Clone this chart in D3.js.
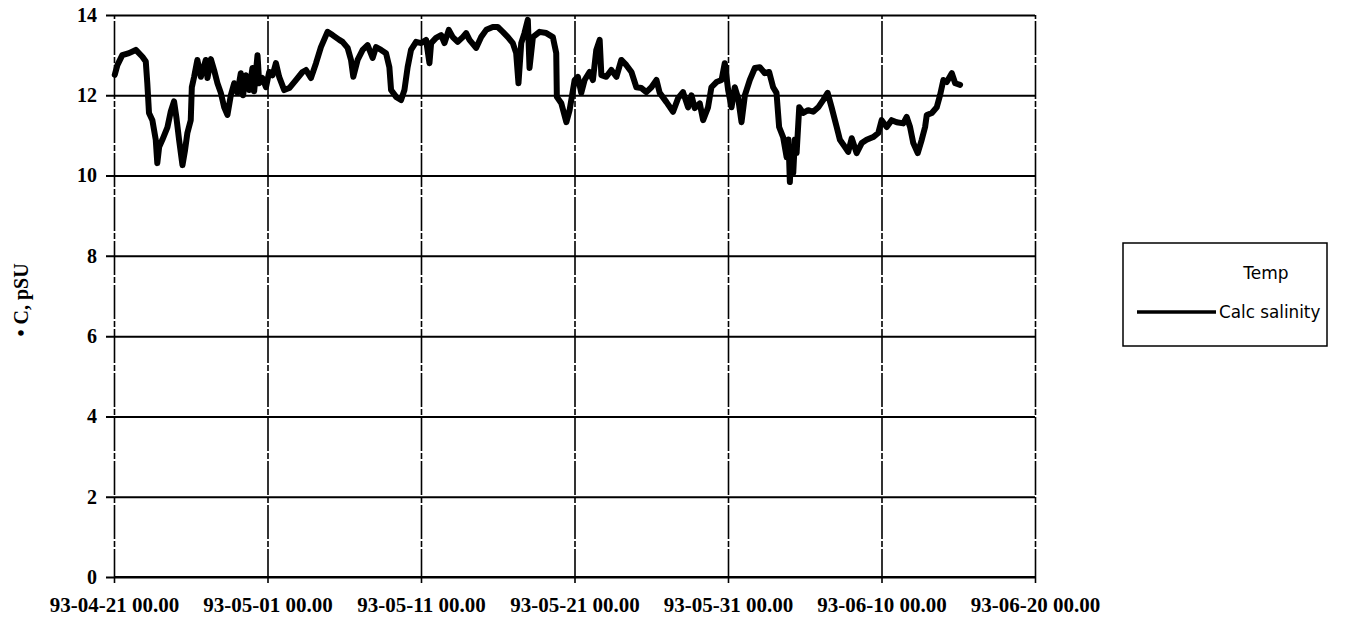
<!DOCTYPE html>
<html>
<head>
<meta charset="utf-8">
<script src="https://cdn.jsdelivr.net/npm/d3@7"></script>
<style>
  html, body { margin: 0; padding: 0; background: #fff; }
  svg { display: block; }
</style>
</head>
<body>
<svg id="chart" width="1361" height="626"></svg>
<script>
// Time of each reading, in days after 93-04-21 00.00
const days = [
  0.05, 0.22, 0.54, 0.98, 1.42, 1.85, 2.07, 2.17, 2.28, 2.50, 2.72, 2.82, 2.94, 3.15, 3.48, 3.70, 3.91, 4.06, 4.24, 4.46,
  4.63, 4.78, 5.00, 5.07, 5.22, 5.43, 5.66, 5.98, 6.09, 6.31, 6.52, 6.74, 6.96, 7.18, 7.39, 7.61, 7.83, 8.04, 8.26, 8.41,
  8.59, 8.81, 9.02, 9.13, 9.35, 9.46, 9.67, 9.90, 10.11, 10.33, 10.55, 10.76, 11.09, 11.42, 11.85, 12.28, 12.51, 12.83, 13.16, 13.48,
  13.91, 14.24, 14.68, 14.89, 15.22, 15.44, 15.59, 15.87, 16.20, 16.52, 16.85, 17.07, 17.40, 17.72, 17.94, 18.05, 18.38, 18.70, 18.92, 19.13,
  19.35, 19.68, 20.01, 20.33, 20.55, 20.66, 20.98, 21.31, 21.53, 21.81, 22.07, 22.39, 22.72, 22.94, 23.16, 23.59, 23.92, 24.25, 24.68, 25.00,
  25.33, 25.66, 25.98, 26.20, 26.35, 26.53, 26.74, 26.96, 27.07, 27.29, 27.72, 28.16, 28.59, 28.81, 28.85, 29.14, 29.47, 29.68, 30.01, 30.22,
  30.44, 30.66, 30.98, 31.20, 31.42, 31.64, 31.75, 32.07, 32.40, 32.73, 33.05, 33.38, 33.71, 34.03, 34.36, 34.68, 35.01, 35.34, 35.55, 35.99,
  36.42, 36.75, 37.07, 37.40, 37.62, 37.83, 38.16, 38.38, 38.70, 38.92, 39.25, 39.58, 39.79, 40.01, 40.23, 40.44, 40.66, 40.88, 41.10, 41.42,
  41.75, 42.07, 42.40, 42.68, 42.94, 43.16, 43.33, 43.59, 43.82, 43.94, 44.03, 44.13, 44.25, 44.36, 44.47, 44.64, 44.90, 45.22, 45.55, 45.88,
  46.20, 46.49, 46.75, 47.08, 47.29, 47.62, 47.83, 48.06, 48.38, 48.71, 49.03, 49.46, 49.79, 50.01, 50.34, 50.66, 50.99, 51.42, 51.64, 51.86,
  52.07, 52.36, 52.62, 52.84, 52.95, 53.28, 53.60, 53.82, 54.03, 54.25, 54.58, 54.80, 55.12
];

// Calculated salinity at each reading
const calcSalinity = [
  12.51, 12.75, 13.00, 13.05, 13.13, 12.96, 12.84, 12.30, 11.56, 11.38, 10.89, 10.31, 10.71, 10.89, 11.20, 11.60, 11.85, 11.46, 10.89, 10.26,
  10.64, 11.06, 11.38, 12.20, 12.46, 12.88, 12.46, 12.88, 12.43, 12.90, 12.63, 12.30, 12.06, 11.70, 11.51, 12.00, 12.30, 12.06, 12.55, 12.00,
  12.50, 12.13, 12.68, 12.10, 13.00, 12.30, 12.43, 12.20, 12.58, 12.50, 12.80, 12.46, 12.13, 12.18, 12.38, 12.58, 12.63, 12.43, 12.80, 13.20,
  13.58, 13.50, 13.38, 13.33, 13.18, 12.88, 12.46, 12.88, 13.13, 13.25, 12.93, 13.20, 13.13, 13.05, 12.70, 12.13, 11.96, 11.88, 12.13, 12.70,
  13.13, 13.33, 13.30, 13.38, 12.80, 13.30, 13.43, 13.50, 13.30, 13.63, 13.45, 13.33, 13.45, 13.55, 13.38, 13.18, 13.45, 13.63, 13.70, 13.70,
  13.58, 13.45, 13.30, 13.05, 12.30, 13.30, 13.55, 13.88, 12.68, 13.45, 13.58, 13.55, 13.45, 13.05, 11.96, 11.80, 11.33, 11.63, 12.38, 12.46,
  12.06, 12.38, 12.58, 12.38, 13.13, 13.38, 12.50, 12.46, 12.63, 12.46, 12.88, 12.75, 12.58, 12.20, 12.18, 12.08, 12.20, 12.38, 12.06, 11.83,
  11.59, 11.93, 12.08, 11.70, 12.00, 11.68, 11.80, 11.38, 11.70, 12.20, 12.33, 12.38, 12.80, 12.13, 11.70, 12.20, 11.93, 11.33, 12.00, 12.38,
  12.68, 12.70, 12.55, 12.58, 12.20, 12.06, 11.21, 10.96, 10.46, 10.90, 9.84, 10.70, 10.06, 10.90, 10.56, 11.70, 11.56, 11.63, 11.59, 11.70,
  11.88, 12.06, 11.70, 11.21, 10.89, 10.71, 10.59, 10.93, 10.56, 10.81, 10.89, 10.96, 11.06, 11.38, 11.21, 11.38, 11.33, 11.30, 11.46, 11.21,
  10.81, 10.56, 10.89, 11.21, 11.51, 11.56, 11.70, 12.01, 12.38, 12.33, 12.55, 12.30, 12.26
];

// Axis ticks
const yTicks = [0, 2, 4, 6, 8, 10, 12, 14];
const xTickDays = [0, 10, 20, 30, 40, 50, 60];
const xTickLabels = ["93-04-21 00.00", "93-05-01 00.00", "93-05-11 00.00", "93-05-21 00.00",
                     "93-05-31 00.00", "93-06-10 00.00", "93-06-20 00.00"];

const yLabel = "• C, pSU";
const legendTitle = "Temp";
const seriesName = "Calc salinity";

const start = Date.UTC(1993, 3, 21);
const toDate = d => new Date(start + d * 864e5);

const svg = d3.select("#chart");
const plot = { left: 114, right: 1035, top: 15, bottom: 577 };

const x = d3.scaleUtc()
  .domain([toDate(0), toDate(60)])
  .range([plot.left, plot.right]);
const y = d3.scaleLinear()
  .domain([0, 14])
  .range([plot.bottom, plot.top]);

const tickFont = "'Liberation Serif', 'Times New Roman', serif";

// Horizontal gridlines with the y-axis tick marks
const yAxis = d3.axisLeft(y)
  .tickValues(yTicks)
  .tickSize(-(plot.right - plot.left))
  .tickSizeOuter(0)
  .tickPadding(17)
  .tickFormat(d3.format("d"));
const gy = svg.append("g")
  .attr("transform", `translate(${plot.left},0)`)
  .call(yAxis);
gy.select(".domain").remove();
gy.selectAll(".tick line")
  .attr("x1", -8)
  .attr("stroke", "#000")
  .attr("stroke-width", 2);
gy.selectAll(".tick text")
  .attr("fill", "#000")
  .style("font-family", tickFont)
  .style("font-weight", "bold")
  .style("font-size", "20px");

// Vertical gridlines with the x-axis tick marks
const xAxis = d3.axisBottom(x)
  .tickValues(xTickDays.map(toDate))
  .tickSize(-(plot.bottom - plot.top))
  .tickSizeOuter(0)
  .tickPadding(20)
  .tickFormat((d, i) => xTickLabels[i]);
const gx = svg.append("g")
  .attr("transform", `translate(0,${plot.bottom})`)
  .call(xAxis);
gx.select(".domain").remove();
gx.selectAll(".tick line")
  .attr("y1", 6)
  .attr("stroke", "#000")
  .attr("stroke-width", 1.6)
  .attr("stroke-dasharray", "34,2,6,2");
gx.selectAll(".tick text")
  .attr("fill", "#000")
  .style("font-family", tickFont)
  .style("font-weight", "bold")
  .style("font-size", "21px");

// Bottom axis line
svg.append("line")
  .attr("x1", plot.left).attr("x2", plot.right)
  .attr("y1", y(0)).attr("y2", y(0))
  .attr("stroke", "#000").attr("stroke-width", 2);

// Y-axis title
svg.append("text")
  .attr("transform", `translate(28,${(plot.top + plot.bottom) / 2 + 4}) rotate(-90)`)
  .attr("text-anchor", "middle")
  .style("font-family", tickFont)
  .style("font-weight", "bold")
  .style("font-size", "20px")
  .text(yLabel);

// Salinity series
const line = d3.line()
  .x((d, i) => x(toDate(days[i])))
  .y(d => y(d));
svg.append("path")
  .datum(calcSalinity)
  .attr("fill", "none")
  .attr("stroke", "#000")
  .attr("stroke-width", 6)
  .attr("stroke-linejoin", "round")
  .attr("stroke-linecap", "round")
  .attr("d", line);

// Legend
const legendFont = "'DejaVu Sans', sans-serif";
const lg = svg.append("g").attr("transform", "translate(1123,243)");
lg.append("rect")
  .attr("width", 204).attr("height", 103)
  .attr("fill", "#fff")
  .attr("stroke", "#000").attr("stroke-width", 1.5);
lg.append("text")
  .attr("x", 143).attr("y", 36)
  .attr("text-anchor", "middle")
  .style("font-family", legendFont)
  .style("font-size", "17px")
  .text(legendTitle);
lg.append("line")
  .attr("x1", 14).attr("x2", 93)
  .attr("y1", 69).attr("y2", 69)
  .attr("stroke", "#000").attr("stroke-width", 3.5);
lg.append("text")
  .attr("x", 96).attr("y", 75)
  .style("font-family", legendFont)
  .style("font-size", "16.8px")
  .text(seriesName);
</script>
</body>
</html>
